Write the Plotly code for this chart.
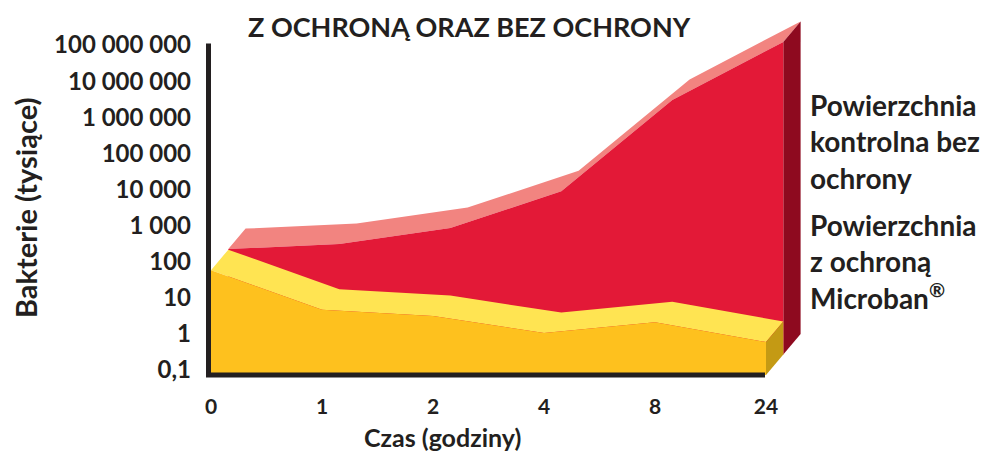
import plotly.graph_objects as go

# ---- data ----
hours = ["0", "1", "2", "4", "8", "24"]
microban = [58, 4.6, 3.1, 1.05, 2.1, 0.59]          # z ochroną Microban®
control = [60, 83, 230, 2400, 810000, 3.3e7]         # kontrolna bez ochrony
ytick_vals = [0.1, 1, 10, 100, 1e3, 1e4, 1e5, 1e6, 1e7, 1e8]
ytick_text = ["0,1", "1", "10", "100", "1 000", "10 000", "100 000",
              "1 000 000", "10 000 000", "100 000 000"]

# ---- styling / geometry ----
FONT = "Lato"
TXT = "#231F20"
U = 111.0          # px per category
D = 36.1           # px per decade
ML, MT = 200, 15
PW, PH = 620, 370
X0 = -11 / U
X1 = X0 + PW / U
YTOP = 8 + (45 - MT) / D
YBOT = YTOP - PH / D
DX = 17.3 / U      # depth offset (x, in category units)
DY = 20.5 / D      # depth offset (decades)
YMIN_FACE = 8 - (375 - 45) / D

C_RED, C_PINK, C_DRED = "#E31937", "#F28480", "#8E0A1F"
C_ORG, C_LYEL, C_DYEL = "#FEC11E", "#FFE452", "#C49A14"

xs = list(range(len(hours)))


def pt(i, v, k):
    return i + k * DX, v * 10 ** (k * DY)


def poly(points, color):
    return go.Scatter(x=[p[0] for p in points] + [points[0][0]],
                      y=[p[1] for p in points] + [points[0][1]],
                      mode="lines", fill="toself", fillcolor=color,
                      line=dict(width=0, color=color), hoverinfo="skip",
                      showlegend=False)


def slab(vals, k, c_front, c_top, c_side):
    n = len(vals)
    front = [pt(i, vals[i], k) for i in range(n)]
    back = [pt(i, vals[i], k + 1) for i in range(n)]
    bmin = 10 ** YMIN_FACE
    top = front[:1] + back + front[::-1]
    side = [front[-1], back[-1], pt(n - 1, bmin, k + 1), pt(n - 1, bmin, k)]
    fr = front + [pt(n - 1, bmin, k), pt(0, bmin, k)]
    return [poly(top, c_top), poly(side, c_side), poly(fr, c_front)]


fig = go.Figure()
for t in slab(control, 1, C_RED, C_PINK, C_DRED):
    fig.add_trace(t)
for t in slab(microban, 0, C_ORG, C_LYEL, C_DYEL):
    fig.add_trace(t)

# axis lines
fig.add_shape(type="line", x0=-2.5 / U, x1=-2.5 / U, y0=10 ** YMIN_FACE, y1=1e8 * 10 ** (1.5 / D),
              line=dict(color=TXT, width=5), layer="above")
fig.add_shape(type="line", x0=-5 / U, x1=len(hours) - 1 - 1 / U, y0=10 ** YMIN_FACE, y1=10 ** YMIN_FACE,
              line=dict(color=TXT, width=5), layer="above")

fig.update_layout(
    width=991, height=455,
    margin=dict(l=ML, r=991 - ML - PW, t=MT, b=455 - MT - PH),
    plot_bgcolor="white", paper_bgcolor="white",
    font=dict(family=FONT, color=TXT, size=23, weight=700),
    showlegend=False,
    xaxis=dict(range=[X0, X1], tickvals=xs, ticktext=hours, showgrid=False,
               zeroline=False, showline=False, ticks="", ticklabelstandoff=7,
               tickfont=dict(size=21, family=FONT, weight=700)),
    yaxis=dict(type="log", range=[YBOT, YTOP], tickvals=ytick_vals, ticktext=ytick_text,
               showgrid=False, zeroline=False, showline=False, ticks="",
               ticklabelstandoff=8, tickfont=dict(size=24, family=FONT, weight=700)),
)


def px2paper_x(px):
    return (px - ML) / PW


def px2paper_y(py):
    return (MT + PH - py) / PH


ann = dict(xref="paper", yref="paper", showarrow=False,
           font=dict(family=FONT, color=TXT, weight=700))
fig.add_annotation(text="Z OCHRONĄ ORAZ BEZ OCHRONY", x=px2paper_x(469), y=px2paper_y(26),
                   xanchor="center", yanchor="middle", **{**ann, "font": {**ann["font"], "size": 27}})
fig.add_annotation(text="Czas (godziny)", x=px2paper_x(442), y=px2paper_y(437),
                   xanchor="center", yanchor="middle", **{**ann, "font": {**ann["font"], "size": 25}})
fig.add_annotation(text="Bakterie (tysiące)", x=px2paper_x(25), y=px2paper_y(208), textangle=-90,
                   xanchor="center", yanchor="middle", **{**ann, "font": {**ann["font"], "size": 29}})
fig.add_annotation(text="Powierzchnia<br>kontrolna bez<br>ochrony", x=px2paper_x(808), y=px2paper_y(86),
                   xanchor="left", yanchor="top", align="left",
                   **{**ann, "font": {**ann["font"], "size": 28}})
fig.add_annotation(text="Powierzchnia<br>z ochroną<br>Microban<sup>®</sup>", x=px2paper_x(808), y=px2paper_y(206),
                   xanchor="left", yanchor="top", align="left",
                   **{**ann, "font": {**ann["font"], "size": 28}})

fig.write_html("out.html", config={"displayModeBar": False},
               post_script="document.body.style.margin='0';document.body.style.padding='0';")
